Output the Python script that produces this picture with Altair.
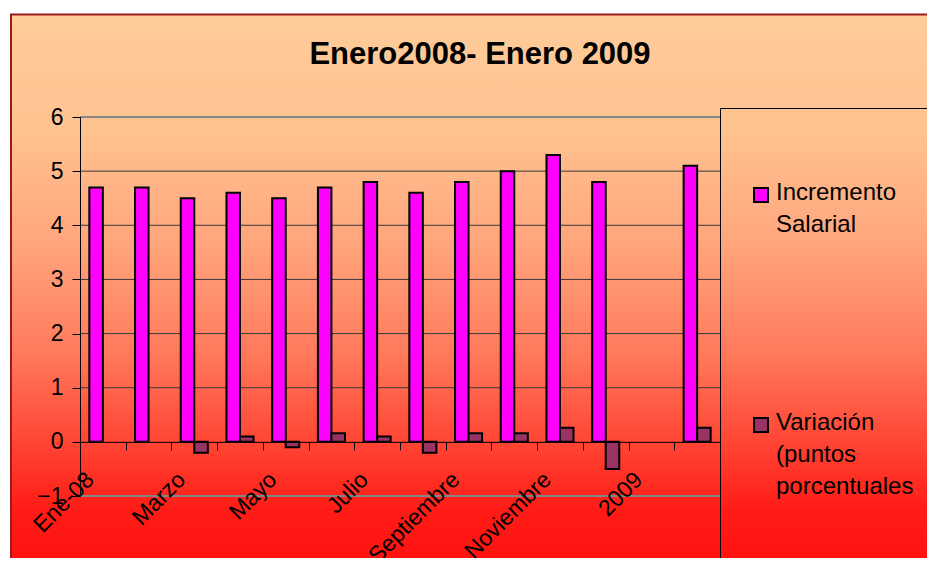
import json
import altair as alt
import pandas as pd

# ---------------- data ----------------
meses = ["Ene-08", "Febrero", "Marzo", "Abril", "Mayo", "Junio", "Julio",
         "Agosto", "Septiembre", "Octubre", "Noviembre", "Diciembre", "2009", "Enero"]
etiquetas_visibles = ["Ene-08", "Marzo", "Mayo", "Julio", "Septiembre", "Noviembre", "2009"]
series = ["Incremento Salarial", "Variación (puntos porcentuales"]
incremento = [4.7, 4.7, 4.5, 4.6, 4.5, 4.7, 4.8, 4.6, 4.8, 5.0, 5.3, 4.8, None, 5.1]
variacion = [None, None, -0.2, 0.1, -0.1, 0.16, 0.1, -0.2, 0.16, 0.16, 0.26, -0.5, None, 0.26]
colores = ["#FF00FF", "#993366"]
y_ticks = [-1, 0, 1, 2, 3, 4, 5, 6]
lineas_grid = [1, 2, 3, 4, 5]
lineas_borde = [6, -1]
titulo = "Enero2008- Enero 2009"
leyenda_lineas = [["Incremento", "Salarial"], ["Variación", "(puntos", "porcentuales"]]

FONT = "Liberation Sans"
W, H = 640, 379
Y_MIN, Y_MAX = -1, 6

rows = []
for m, a, b in zip(meses, incremento, variacion):
    rows.append({"mes": m, "serie": series[0], "valor": a})
    rows.append({"mes": m, "serie": series[1], "valor": b})
df = pd.DataFrame(rows)

y_scale = alt.Scale(domain=[Y_MIN, Y_MAX], nice=False, zero=False)
color_scale = alt.Scale(domain=series, range=colores)

y_axis = alt.Axis(values=y_ticks, grid=False, domainColor="black", domainWidth=1,
                  tickColor="black", tickSize=8, tickWidth=1, labelFontSize=23,
                  labelFont=FONT, labelColor="black", labelPadding=9, zindex=1,
                  title=None)

label_expr = "indexof(%s, datum.label) >= 0 ? datum.label : ''" % json.dumps(etiquetas_visibles)
x_offset = -H * (0 - Y_MIN) / (Y_MAX - Y_MIN)
x_axis = alt.Axis(tickBand="extent", tickSize=8, tickColor="black", tickWidth=1,
                  domainColor="black", domainWidth=1, labelAngle=-45,
                  labelAlign="right", labelBaseline="middle", labelOffset=-13,
                  labelPadding=26, labelFontSize=23, labelFont=FONT,
                  labelColor="black", labelExpr=label_expr, labelOverlap=False,
                  labelLimit=400, offset=x_offset, zindex=1, title=None, grid=False)

one = pd.DataFrame({"k": [0]})

# background gradient panel
grad = alt.LinearGradient(
    gradient="linear", x1=0, x2=0, y1=0, y2=1,
    stops=[
        alt.GradientStop(color="#FFCC99", offset=0.0),
        alt.GradientStop(color="#FFC291", offset=0.2),
        alt.GradientStop(color="#FFA47C", offset=0.4),
        alt.GradientStop(color="#FF7A5C", offset=0.58),
        alt.GradientStop(color="#FF4A38", offset=0.72),
        alt.GradientStop(color="#FF1C16", offset=0.85),
        alt.GradientStop(color="#FF0A0A", offset=1.0),
    ],
)
bg = alt.Chart(one).mark_rect(fill=grad, stroke="#9B1B1B", strokeWidth=2).encode(
    x=alt.value(-69), x2=alt.value(880), y=alt.value(-102.5), y2=alt.value(480)
)

legend_box = alt.Chart(one).mark_rect(filled=False, stroke="black", strokeWidth=1).encode(
    x=alt.value(640.5), x2=alt.value(900), y=alt.value(-8.5), y2=alt.value(490)
)

grid_dark = alt.Chart(pd.DataFrame({"g": lineas_grid})).mark_rule(
    color="#3a3a3a", strokeWidth=1
).encode(y=alt.Y("g:Q", scale=y_scale, axis=y_axis))

grid_border = alt.Chart(pd.DataFrame({"g": lineas_borde})).mark_rule(
    color="#858585", strokeWidth=2
).encode(y=alt.Y("g:Q", scale=y_scale, axis=y_axis))

bars = alt.Chart(df).mark_bar(stroke="black", strokeWidth=2).encode(
    x=alt.X("mes:N", sort=meses,
            scale=alt.Scale(domain=meses, paddingInner=0, paddingOuter=0),
            axis=x_axis),
    xOffset=alt.XOffset("serie:N",
                        scale=alt.Scale(domain=series, paddingInner=0, paddingOuter=0.69)),
    y=alt.Y("valor:Q", scale=y_scale, axis=y_axis),
    color=alt.Color("serie:N", scale=color_scale, legend=None),
)

# legend (symbols coloured through the shared colour scale)
leg_layers = []
sym_pos = [(681, 78), (681, 308)]
txt_pos = [(696, 83), (696, 313)]
for s, lines, (sx, sy), (tx, ty) in zip(series, leyenda_lineas, sym_pos, txt_pos):
    d = pd.DataFrame({"serie": [s], "etiqueta": ["\n".join(lines)]})
    leg_layers.append(
        alt.Chart(d).mark_square(size=196, opacity=1, stroke="black", strokeWidth=2).encode(
            x=alt.value(sx), y=alt.value(sy),
            color=alt.Color("serie:N", scale=color_scale, legend=None),
        )
    )
    leg_layers.append(
        alt.Chart(d).mark_text(align="left", baseline="alphabetic", fontSize=24,
                               lineHeight=32, font=FONT, color="black",
                               lineBreak="\n").encode(
            x=alt.value(tx), y=alt.value(ty), text="etiqueta:N"
        )
    )

title_mark = alt.Chart(one).mark_text(
    text=titulo, fontSize=31, fontWeight="bold", font=FONT, color="black",
    align="center", baseline="alphabetic"
).encode(x=alt.value(400), y=alt.value(-53.5))

# fixed-size view that fills the page's content box; the panel is cropped at
# the right and bottom edges as in the reference
PAD_L, PAD_T = 72, 109
PAD_R = 935 - 16 - PAD_L - W
PAD_B = 550 - PAD_T - H

chart = alt.layer(bg, legend_box, grid_dark, grid_border, bars, *leg_layers, title_mark).properties(
    width=W, height=H,
    padding={"left": PAD_L, "top": PAD_T, "right": PAD_R, "bottom": PAD_B},
    autosize=alt.AutoSizeParams(type="none"),
    background="white",
).configure_view(stroke=None)

chart.save("out.html", embed_options={"renderer": "svg", "actions": False})
